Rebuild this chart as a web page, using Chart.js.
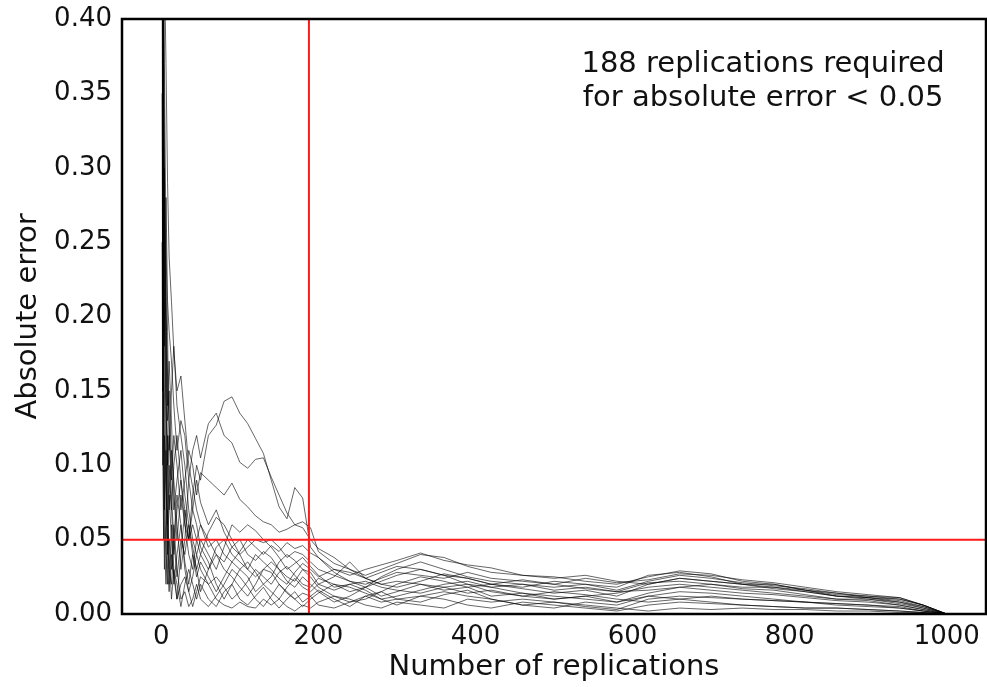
<!DOCTYPE html>
<html>
<head>
<meta charset="utf-8">
<title>Absolute error vs replications</title>
<script src="https://cdn.jsdelivr.net/npm/chart.js@4.4.1/dist/chart.umd.min.js"></script>
<style>
  html, body { margin: 0; padding: 0; background: #fff; }
  #wrap { width: 987px; height: 687px; }
</style>
</head>
<body>
<div id="wrap"><canvas id="errorChart" width="987" height="687"></canvas></div>
<script>
// Number of replications at which each run was sampled
const replications = [1, 2, 3, 4, 6, 8, 10, 13, 16, 20, 25, 30, 35, 40, 45, 50, 60, 70, 80, 90,
    100, 110, 120, 130, 140, 150, 160, 170, 180, 190, 200, 220, 240, 260, 280, 300, 330, 360, 390, 420,
    460, 500, 540, 580, 620, 660, 700, 740, 780, 820, 860, 900, 940, 970, 1000];

// Absolute error of the running mean, one array per run
const run1 = [0.62, 0.45, 0.30, 0.21, 0.12, 0.05, 0.02, 0.06, 0.03, 0.01, 0.04, 0.07, 0.05, 0.08, 0.10, 0.09, 0.12, 0.127, 0.143, 0.146,
    0.135, 0.128, 0.118, 0.108, 0.09, 0.072, 0.064, 0.085, 0.078, 0.045, 0.038, 0.028, 0.022, 0.018, 0.025, 0.03, 0.035, 0.03, 0.025, 0.022,
    0.02, 0.018, 0.02, 0.018, 0.026, 0.028, 0.025, 0.02, 0.018, 0.015, 0.012, 0.01, 0.008, 0.005, 0];
const run2 = [0.85, 0.50, 0.41, 0.26, 0.18, 0.10, 0.07, 0.11, 0.09, 0.06, 0.03, 0.05, 0.09, 0.11, 0.12, 0.105, 0.128, 0.135, 0.12, 0.115,
    0.102, 0.098, 0.104, 0.105, 0.092, 0.08, 0.068, 0.06, 0.062, 0.058, 0.042, 0.034, 0.03, 0.024, 0.02, 0.022, 0.02, 0.016, 0.018, 0.012,
    0.014, 0.01, 0.012, 0.008, 0.014, 0.018, 0.02, 0.017, 0.016, 0.013, 0.01, 0.01, 0.007, 0.004, 0];
const run3 = [0.40, 0.55, 0.33, 0.28, 0.20, 0.16, 0.13, 0.09, 0.12, 0.10, 0.07, 0.09, 0.11, 0.10, 0.08, 0.095, 0.09, 0.085, 0.08, 0.088,
    0.077, 0.072, 0.066, 0.062, 0.06, 0.055, 0.057, 0.06, 0.058, 0.05, 0.044, 0.038, 0.03, 0.026, 0.03, 0.034, 0.04, 0.038, 0.032, 0.028,
    0.026, 0.024, 0.026, 0.022, 0.02, 0.024, 0.022, 0.02, 0.02, 0.016, 0.013, 0.012, 0.01, 0.006, 0];
const run4 = [0.70, 0.38, 0.25, 0.30, 0.22, 0.14, 0.17, 0.13, 0.08, 0.05, 0.08, 0.06, 0.04, 0.03, 0.05, 0.06, 0.045, 0.05, 0.04, 0.035,
    0.042, 0.05, 0.045, 0.04, 0.046, 0.042, 0.048, 0.044, 0.046, 0.041, 0.038, 0.03, 0.026, 0.03, 0.033, 0.036, 0.041, 0.036, 0.033, 0.031,
    0.026, 0.025, 0.022, 0.02, 0.025, 0.029, 0.027, 0.022, 0.02, 0.016, 0.012, 0.011, 0.009, 0.005, 0];
const run5 = [0.30, 0.48, 0.22, 0.15, 0.09, 0.04, 0.08, 0.05, 0.02, 0.04, 0.06, 0.035, 0.02, 0.04, 0.03, 0.015, 0.03, 0.04, 0.035, 0.045,
    0.05, 0.04, 0.036, 0.042, 0.038, 0.03, 0.025, 0.022, 0.03, 0.028, 0.02, 0.025, 0.035, 0.024, 0.02, 0.018, 0.022, 0.027, 0.024, 0.02,
    0.018, 0.022, 0.02, 0.016, 0.022, 0.026, 0.024, 0.021, 0.019, 0.017, 0.014, 0.012, 0.011, 0.006, 0];
const run6 = [0.52, 0.28, 0.12, 0.05, 0.02, 0.07, 0.04, 0.01, 0.03, 0.02, 0.005, 0.02, 0.03, 0.02, 0.01, 0.02, 0.01, 0.005, 0.015, 0.02,
    0.01, 0.006, 0.012, 0.018, 0.01, 0.004, 0.01, 0.015, 0.008, 0.012, 0.016, 0.01, 0.005, 0.012, 0.015, 0.01, 0.008, 0.013, 0.016, 0.01,
    0.006, 0.004, 0.008, 0.006, 0.012, 0.01, 0.008, 0.006, 0.005, 0.004, 0.004, 0.003, 0.002, 0.001, 0];
const run7 = [0.95, 0.62, 0.44, 0.37, 0.25, 0.19, 0.11, 0.15, 0.18, 0.14, 0.12, 0.10, 0.07, 0.05, 0.04, 0.03, 0.02, 0.025, 0.018, 0.01,
    0.015, 0.022, 0.03, 0.025, 0.02, 0.028, 0.032, 0.026, 0.02, 0.018, 0.024, 0.02, 0.015, 0.018, 0.012, 0.015, 0.02, 0.018, 0.014, 0.016,
    0.012, 0.01, 0.012, 0.014, 0.018, 0.02, 0.018, 0.016, 0.014, 0.012, 0.01, 0.009, 0.006, 0.003, 0];
const run8 = [0.45, 0.20, 0.08, 0.03, 0.06, 0.12, 0.09, 0.07, 0.04, 0.07, 0.09, 0.06, 0.05, 0.07, 0.06, 0.045, 0.035, 0.02, 0.01, 0.02,
    0.03, 0.035, 0.028, 0.02, 0.025, 0.035, 0.04, 0.036, 0.03, 0.025, 0.018, 0.012, 0.008, 0.01, 0.015, 0.02, 0.025, 0.022, 0.018, 0.02,
    0.017, 0.014, 0.016, 0.012, 0.02, 0.024, 0.022, 0.02, 0.017, 0.015, 0.012, 0.011, 0.008, 0.004, 0];
const run9 = [0.20, 0.35, 0.18, 0.09, 0.04, 0.02, 0.05, 0.03, 0.06, 0.03, 0.01, 0.015, 0.005, 0.01, 0.02, 0.01, 0.005, 0.012, 0.02, 0.03,
    0.025, 0.018, 0.01, 0.005, 0.012, 0.02, 0.015, 0.01, 0.005, 0.01, 0.014, 0.02, 0.018, 0.014, 0.01, 0.006, 0.012, 0.01, 0.006, 0.004,
    0.008, 0.006, 0.004, 0.002, 0.006, 0.008, 0.007, 0.006, 0.005, 0.004, 0.004, 0.003, 0.002, 0.001, 0];
const run10 = [1.1, 0.70, 0.52, 0.44, 0.37, 0.29, 0.24, 0.21, 0.177, 0.15, 0.16, 0.13, 0.10, 0.085, 0.07, 0.06, 0.05, 0.04, 0.03, 0.025,
    0.018, 0.012, 0.02, 0.03, 0.035, 0.03, 0.022, 0.018, 0.025, 0.02, 0.015, 0.008, 0.012, 0.018, 0.022, 0.026, 0.03, 0.026, 0.02, 0.018,
    0.02, 0.016, 0.018, 0.015, 0.016, 0.018, 0.016, 0.014, 0.013, 0.011, 0.009, 0.008, 0.006, 0.003, 0];
const run11 = [0.35, 0.15, 0.26, 0.20, 0.14, 0.10, 0.12, 0.08, 0.05, 0.025, 0.05, 0.04, 0.06, 0.045, 0.03, 0.04, 0.055, 0.065, 0.06, 0.05,
    0.04, 0.045, 0.05, 0.048, 0.05, 0.045, 0.038, 0.042, 0.04, 0.035, 0.03, 0.026, 0.022, 0.02, 0.024, 0.028, 0.026, 0.024, 0.028, 0.024,
    0.022, 0.02, 0.024, 0.021, 0.023, 0.027, 0.026, 0.023, 0.021, 0.018, 0.015, 0.013, 0.011, 0.006, 0];
const run12 = [0.78, 0.42, 0.36, 0.24, 0.16, 0.08, 0.03, 0.02, 0.05, 0.08, 0.06, 0.03, 0.015, 0.025, 0.04, 0.05, 0.04, 0.03, 0.045, 0.06,
    0.055, 0.06, 0.056, 0.05, 0.045, 0.038, 0.03, 0.034, 0.038, 0.032, 0.026, 0.018, 0.02, 0.016, 0.01, 0.012, 0.016, 0.02, 0.022, 0.018,
    0.014, 0.012, 0.01, 0.008, 0.012, 0.015, 0.014, 0.012, 0.01, 0.008, 0.007, 0.006, 0.004, 0.002, 0];
const run13 = [0.25, 0.10, 0.05, 0.12, 0.08, 0.03, 0.015, 0.04, 0.025, 0.01, 0.02, 0.025, 0.015, 0.005, 0.015, 0.025, 0.02, 0.01, 0.006, 0.004,
    0.008, 0.005, 0.004, 0.01, 0.006, 0.01, 0.005, 0.002, 0.006, 0.004, 0.008, 0.012, 0.01, 0.006, 0.004, 0.008, 0.006, 0.004, 0.01, 0.008,
    0.01, 0.008, 0.006, 0.004, 0.002, 0.004, 0.003, 0.004, 0.003, 0.003, 0.002, 0.002, 0.001, 0.001, 0];
const run14 = [0.58, 0.32, 0.40, 0.27, 0.19, 0.13, 0.15, 0.10, 0.07, 0.09, 0.11, 0.08, 0.06, 0.04, 0.025, 0.035, 0.025, 0.015, 0.025, 0.035,
    0.03, 0.025, 0.015, 0.02, 0.015, 0.01, 0.018, 0.024, 0.018, 0.015, 0.02, 0.016, 0.02, 0.022, 0.018, 0.016, 0.014, 0.018, 0.02, 0.015,
    0.012, 0.015, 0.013, 0.01, 0.008, 0.01, 0.012, 0.01, 0.009, 0.008, 0.007, 0.006, 0.005, 0.002, 0];
const run15 = [0.15, 0.25, 0.14, 0.07, 0.11, 0.06, 0.10, 0.07, 0.10, 0.12, 0.09, 0.07, 0.05, 0.06, 0.05, 0.04, 0.03, 0.045, 0.05, 0.04,
    0.035, 0.03, 0.04, 0.035, 0.03, 0.024, 0.02, 0.028, 0.034, 0.03, 0.025, 0.03, 0.028, 0.024, 0.028, 0.032, 0.03, 0.026, 0.024, 0.02,
    0.023, 0.02, 0.017, 0.015, 0.021, 0.022, 0.02, 0.018, 0.018, 0.016, 0.014, 0.011, 0.01, 0.006, 0];
const run16 = [0.48, 0.60, 0.29, 0.18, 0.28, 0.21, 0.19, 0.17, 0.14, 0.11, 0.13, 0.12, 0.09, 0.07, 0.09, 0.075, 0.06, 0.07, 0.055, 0.045,
    0.04, 0.03, 0.025, 0.03, 0.028, 0.02, 0.014, 0.01, 0.014, 0.012, 0.006, 0.004, 0.008, 0.012, 0.008, 0.01, 0.012, 0.015, 0.012, 0.01,
    0.006, 0.008, 0.005, 0.003, 0.01, 0.012, 0.011, 0.01, 0.009, 0.008, 0.006, 0.005, 0.004, 0.002, 0];

const runs = [run1, run2, run3, run4, run5, run6, run7, run8, run9, run10, run11, run12, run13, run14, run15, run16];

// Threshold and the replication count where it is reached
const errorThreshold = 0.05;
const requiredReplications = 188;

const xTicks = [0, 200, 400, 600, 800, 1000];
const yTicks = [0, 0.05, 0.10, 0.15, 0.20, 0.25, 0.30, 0.35, 0.40];
const noteLines = ['188 replications required', 'for absolute error < 0.05'];

const fontFamily = '"DejaVu Sans", sans-serif';
const tickFont = { family: fontFamily, size: 26 };
const titleFont = { family: fontFamily, size: 29 };

// Build line datasets for every run
const runDatasets = runs.map(values => ({
    data: values.map((v, i) => ({ x: replications[i], y: v })),
    borderColor: 'rgba(0, 0, 0, 0.6)',
    borderWidth: 1,
    pointRadius: 0,
    tension: 0,
    order: 2
}));

const thresholdDatasets = [
    {
        data: [{ x: requiredReplications, y: 0 }, { x: requiredReplications, y: 0.4 }],
        borderColor: '#ff1a1a',
        borderWidth: 2,
        pointRadius: 0,
        order: 1
    },
    {
        data: [{ x: -50, y: errorThreshold }, { x: 1050, y: errorThreshold }],
        borderColor: '#ff1a1a',
        borderWidth: 2,
        pointRadius: 0,
        order: 1
    }
];

// Frame round the plot area plus the note in the upper right
const framePlugin = {
    id: 'frame',
    afterDraw(chart) {
        const { ctx, chartArea } = chart;
        ctx.save();
        ctx.strokeStyle = '#000';
        ctx.lineWidth = 2.5;
        ctx.strokeRect(chartArea.left, chartArea.top, chartArea.right - chartArea.left, chartArea.bottom - chartArea.top);

        const w = chartArea.right - chartArea.left;
        const h = chartArea.bottom - chartArea.top;
        ctx.fillStyle = '#111';
        ctx.font = titleFont.size + 'px ' + fontFamily;
        ctx.textAlign = 'center';
        ctx.textBaseline = 'middle';
        noteLines.forEach((line, i) => {
            ctx.fillText(line, chartArea.left + w * 0.742, chartArea.top + h * 0.076 + i * 34);
        });
        ctx.restore();
    }
};

new Chart(document.getElementById('errorChart'), {
    type: 'line',
    data: { datasets: runDatasets.concat(thresholdDatasets) },
    options: {
        responsive: false,
        animation: false,
        layout: { padding: { left: 0, right: 1, top: 19, bottom: 0 } },
        plugins: {
            legend: { display: false },
            tooltip: { enabled: false }
        },
        scales: {
            x: {
                type: 'linear',
                min: -50,
                max: 1050,
                grid: { display: false, drawTicks: false },
                border: { display: false },
                afterBuildTicks: scale => { scale.ticks = xTicks.map(v => ({ value: v })); },
                afterFit: scale => {
                    scale.height = 73;
                    scale.paddingLeft = 0;
                    scale.paddingRight = 0;
                },
                ticks: {
                    padding: 8,
                    color: '#111',
                    font: tickFont,
                    callback: v => String(v)
                },
                title: {
                    display: true,
                    text: 'Number of replications',
                    color: '#111',
                    font: titleFont,
                    padding: { top: 0, bottom: 2 }
                }
            },
            y: {
                min: 0,
                max: 0.4,
                grid: { display: false, drawTicks: false },
                border: { display: false },
                afterBuildTicks: scale => { scale.ticks = yTicks.map(v => ({ value: v })); },
                afterFit: scale => {
                    scale.width = 122;
                    scale.paddingTop = 0;
                    scale.paddingBottom = 0;
                },
                ticks: {
                    padding: 10,
                    color: '#111',
                    font: tickFont,
                    callback: v => v.toFixed(2)
                },
                title: {
                    display: true,
                    text: 'Absolute error',
                    color: '#111',
                    font: titleFont,
                    padding: { top: 11, bottom: 0 }
                }
            }
        }
    },
    plugins: [framePlugin]
});
</script>
</body>
</html>
